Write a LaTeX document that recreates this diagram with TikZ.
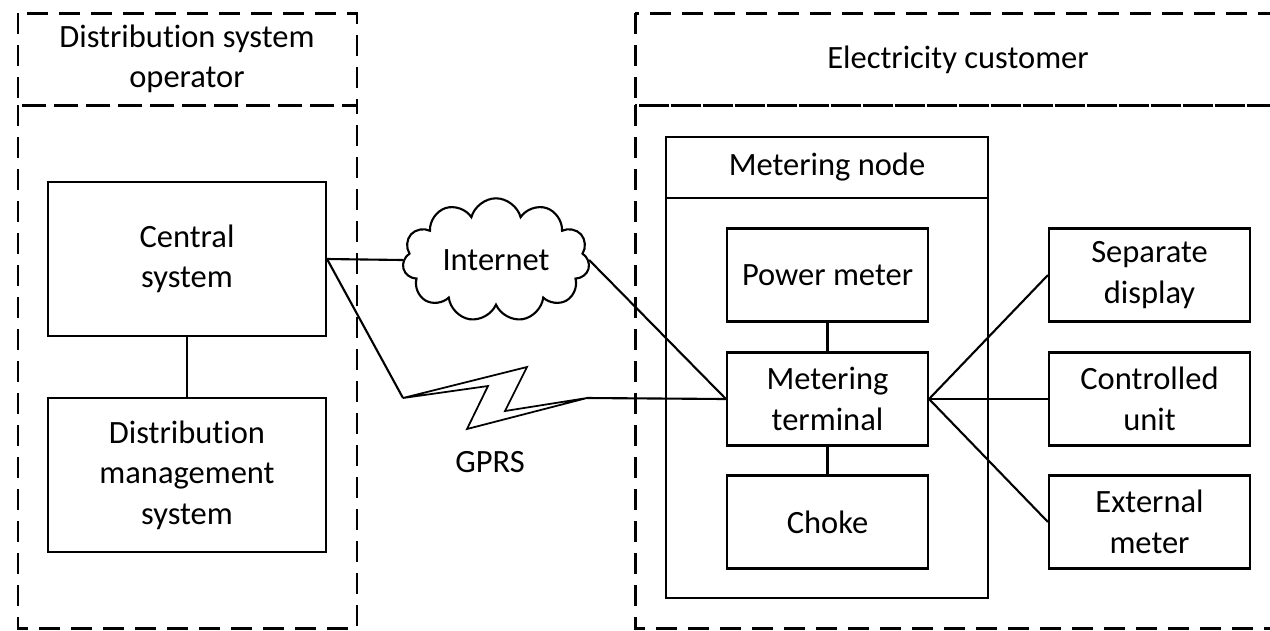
\documentclass[tikz,border=0pt]{standalone}
\usepackage{fontspec}
\setmainfont[Ligatures=NoCommon]{Carlito}
\usetikzlibrary{shapes.symbols}
\begin{document}
\begin{tikzpicture}[x=0.02cm, y=-0.02cm, line width=1.2pt,
    every node/.style={font=\fontsize{18.5}{23}\selectfont, align=center},
    unit/.style={draw, minimum width=4.02cm, minimum height=1.86cm, inner sep=0pt},
    bigunit/.style={unit, minimum width=5.56cm, minimum height=3.08cm},
    region/.style={line width=1.7pt, dash pattern=on 0.42cm off 0.22cm}]
    \useasboundingbox (0,0) rectangle (1270,630) ;
    \draw [region] (18,13) rectangle (357,105) ;
    \draw [region] (18,105) rectangle (357,628) ;
    \draw [region] (635,13) rectangle (1281,105) ;
    \draw [region] (635,105) rectangle (1281,628) ;
    \node (dso) at (187,59) {Distribution system\\operator} ;
    \node (cust) at (958,60) {Electricity customer} ;

    \node [bigunit] (central) at (187,259) {Central\\system} ;
    \node [bigunit] (dms) at (187,475) {Distribution\\management\\system} ;
    \draw (central) -- (dms) ;

    \draw (666,137) rectangle (988,598) ;
    \draw (666,198) -- (988,198) ;
    \node (mnode) at (827,167) {Metering node} ;
    \node [unit] (pmeter) at (827.5,275) {Power meter} ;
    \node [unit] (mterm) at (827.5,399) {Metering\\terminal} ;
    \node [unit] (choke) at (827.5,522) {Choke} ;
    \draw (pmeter) -- (mterm) ;
    \draw (mterm) -- (choke) ;

    \node [unit] (display) at (1149.5,275) {Separate\\display} ;
    \node [unit] (cunit) at (1149.5,399) {Controlled\\unit} ;
    \node [unit] (xmeter) at (1149.5,522) {External\\meter} ;
    \draw (mterm.east) -- (display.west) ;
    \draw (mterm.east) -- (cunit.west) ;
    \draw (mterm.east) -- (xmeter.west) ;

    \node [cloud, draw, cloud puffs=11, aspect=1.6, minimum width=3.74cm, minimum height=2.34cm, inner sep=0pt] (inet) at (496,260) {Internet} ;
    \draw (central.east) -- (inet.west) ;
    \draw (inet.east) -- (mterm.west) ;

    \coordinate (gA) at (403,398) ;
    \coordinate (gB) at (527,367) ;
    \coordinate (gC) at (505,411) ;
    \coordinate (gD) at (587,398) ;
    \coordinate (gF) at (467,429) ;
    \coordinate (gE) at (488,386) ;
    \draw [line width=1pt] (gA) -- (gB) -- (gC) -- (gD) -- (gF) -- (gE) -- cycle ;
    \draw (central.east) -- (gA) ;
    \draw (gD) -- (mterm.west) ;
    \node (gprs) at (490,462) {GPRS} ;
\end{tikzpicture}
\end{document}
